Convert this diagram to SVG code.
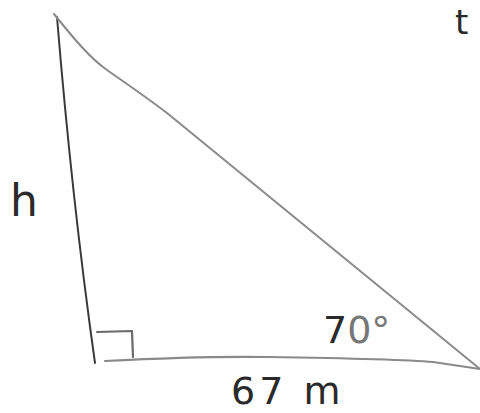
<svg xmlns="http://www.w3.org/2000/svg" width="480" height="413" viewBox="0 0 480 413">
<style>
.ln{fill:none;stroke-linecap:round;stroke-linejoin:round}
.lbl{font-family:"DejaVu Sans","Liberation Sans",sans-serif;fill:#2a2a2a}
</style>
<rect width="480" height="413" fill="#fff"/>
<g id="triangle">
<path class="ln" d="M57,17 Q72,200 95,363" stroke="#3a3a3a" stroke-width="2"/>
<path class="ln" d="M54,14 C75,40 90,58 107,70 C130,86 150,100 167,113 L480,369" stroke="#8a8a8a" stroke-width="2"/>
<path class="ln" d="M105,361 Q200,356 267,357 Q400,359 433,362 L480,369" stroke="#8a8a8a" stroke-width="2.2"/>
<path class="ln" d="M97,332 L132,331 L133,357" stroke="#6a6a6a" stroke-width="2.2"/>
</g>
<g id="labels">
<text class="lbl" x="455" y="34" font-size="34">t</text>
<text class="lbl" x="10" y="216" font-size="44">h</text>
<text class="lbl" x="323" y="343" font-size="38">7<tspan fill="#777">0°</tspan></text>
<text class="lbl" x="231" y="404" font-size="38" letter-spacing="4">67 m</text>
</g>
</svg>
